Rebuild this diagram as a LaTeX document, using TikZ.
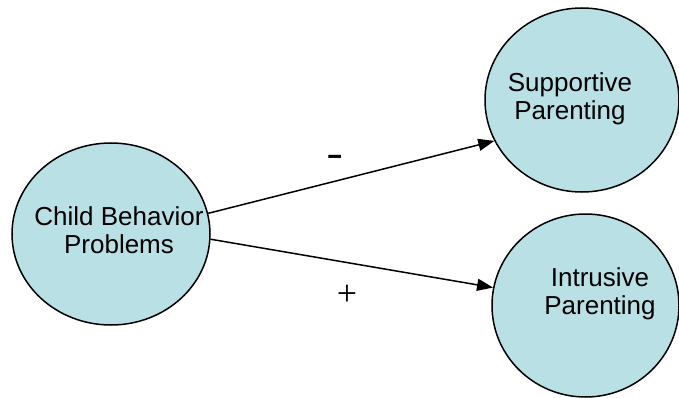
\documentclass[tikz,border=0pt]{standalone}
\usepackage{fontspec}
\setmainfont{Liberation Sans}
\newfontfamily\serifplus{Liberation Serif}
\usetikzlibrary{shapes.geometric,arrows.meta}
\definecolor{bubble}{RGB}{185,224,228}
\tikzset{
  bubblenode/.style={ellipse, draw=black, line width=1.5pt, fill=bubble, inner sep=0pt},
  label text/.style={anchor=base, align=center, font=\fontsize{26}{28}\selectfont, inner sep=0pt},
  link/.style={line width=1.5pt, -{Triangle[length=16pt,width=12pt]}}
}
\begin{document}
\begin{tikzpicture}[x=1pt,y=-1pt]
\useasboundingbox (0,0) rectangle (679,398);
\clip (0,0) rectangle (679,398);
\node[bubblenode, minimum width=198pt, minimum height=182pt] (cbp) at (111,234) {};
\node[bubblenode, minimum width=194pt, minimum height=184pt] (sp) at (582,100) {};
\node[bubblenode, minimum width=187pt, minimum height=183pt] (ip) at (585.5,305.5) {};
\node[label text] (cbpt) at (119,253) {Child Behavior\\Problems};
\node[label text] (spt) at (570,120) {Supportive\\Parenting};
\node[label text] (ipt) at (600,314) {Intrusive\\Parenting};
\draw[link] (cbp.12.6) -- (sp.205.5);
\draw[link] (cbp.-3) -- (ip.169.4);
\node[font=\fontsize{40}{40}\selectfont, inner sep=0pt] (minus) at (335.5,161.5) {\scalebox{1.3}[1]{-}};
\node[font=\fontsize{36}{36}\selectfont\serifplus, inner sep=0pt] (plus) at (347,295) {+};
\end{tikzpicture}
\end{document}
